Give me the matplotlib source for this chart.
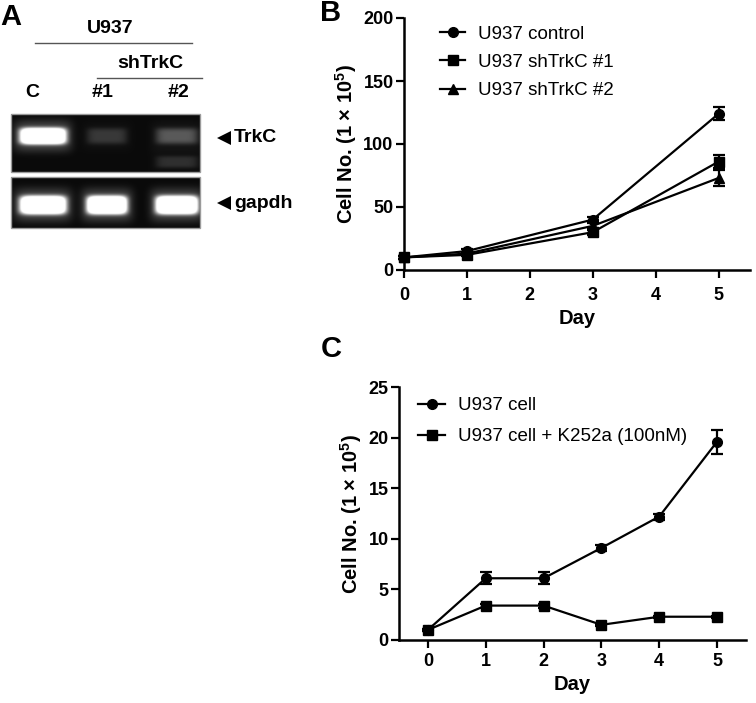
import numpy as np
import matplotlib
matplotlib.use("Agg")
import matplotlib.pyplot as plt
from matplotlib.patches import Rectangle

plt.rcParams["font.family"] = ["Liberation Sans", "DejaVu Sans"]
plt.rcParams["mathtext.fontset"] = "custom"
plt.rcParams["mathtext.rm"] = "Liberation Sans:bold"
plt.rcParams["mathtext.it"] = "Liberation Sans:bold"
plt.rcParams["mathtext.bf"] = "Liberation Sans:bold"

# ── DATA ────────────────────────────────────────────────────────────
# panel A: RT-PCR gel, relative band intensity per lane
lanes = ["C", "#1", "#2"]
trkc_signal = [1.0, 0.10, 0.17]
trkc_lower = [0.0, 0.0, 0.08]
gapdh_signal = [1.0, 1.0, 1.0]

# panel B: growth curves
days_b = [0, 1, 3, 5]
ctrl_b = [10, 15, 40, 124]
ctrl_b_err = [1, 1.5, 2, 5]
sh1_b = [10, 12, 30, 86]
sh1_b_err = [1, 1, 2, 5]
sh2_b = [10, 13, 35, 73]
sh2_b_err = [1, 1, 2, 6]
labels_b = ["U937 control", "U937 shTrkC #1", "U937 shTrkC #2"]

# panel C: K252a treatment
days_c = [0, 1, 2, 3, 4, 5]
cell_c = [1.0, 6.1, 6.1, 9.1, 12.2, 19.6]
cell_c_err = [0.1, 0.6, 0.6, 0.3, 0.3, 1.2]
k252a_c = [1.0, 3.4, 3.4, 1.5, 2.3, 2.3]
k252a_c_err = [0.1, 0.2, 0.2, 0.1, 0.1, 0.1]
labels_c = ["U937 cell", "U937 cell + K252a (100nM)"]

W, H = 756, 703
fig = plt.figure(figsize=(W / 100, H / 100), dpi=100)


def px_axes(left, top, right, bottom):
    return fig.add_axes([left / W, 1 - bottom / H, (right - left) / W, (bottom - top) / H])


# ── PANEL A (drawn in pixel space) ──────────────────────────────────
ov = fig.add_axes([0, 0, 1, 1])
ov.set_xlim(0, W)
ov.set_ylim(H, 0)
ov.axis("off")
ov.patch.set_visible(False)


def blob(xx, yy, cx, cy, wx, wy, amp):
    return amp * np.exp(-np.abs((xx - cx) / wx) ** 6) * np.exp(-np.abs((yy - cy) / wy) ** 4)


lane_x = [43, 107, 177]
lane_w = [23, 20, 21]


def gel(x0, x1, y0, y1, rows):
    xs = np.linspace(x0, x1, 4 * int(x1 - x0))
    ys = np.linspace(y0, y1, 4 * int(y1 - y0))
    xx, yy = np.meshgrid(xs, ys)
    img = np.full(xx.shape, 0.04)
    for sig, cy, wy in rows:
        for cx, w, s in zip(lane_x, lane_w, sig):
            if s <= 0:
                continue
            img += blob(xx, yy, cx, cy, w, wy, 1.6 * s)
            img += blob(xx, yy, cx, cy, w + 6, wy + 8, 0.25 * s)
    ov.imshow(np.clip(img, 0, 1), cmap="gray", vmin=0, vmax=1, aspect="auto",
              extent=(x0, x1, y1, y0), interpolation="bilinear", zorder=1)
    ov.add_patch(Rectangle((x0, y0), x1 - x0, y1 - y0, fill=False, ec="#9a9a9a", lw=1, zorder=2))


gel(11, 200, 114, 172, [(trkc_signal, 136, 8), (trkc_lower, 162, 6)])
gel(11, 200, 177, 228, [(gapdh_signal, 205, 9)])

ov.text(0, 25, "A", fontsize=21, fontweight="bold", va="baseline")
ov.text(110, 33, "U937", fontsize=14, fontweight="bold", ha="center", va="baseline")
ov.plot([35, 192], [43, 43], color="#555555", lw=1)
ov.text(150, 68, "shTrkC", fontsize=14, fontweight="bold", ha="center", va="baseline")
ov.plot([97, 202], [78, 78], color="#555555", lw=1)
for name, cx in zip(lanes, [32, 103, 178]):
    ov.text(cx, 97, name, fontsize=14, fontweight="bold", ha="center", va="baseline")
for name, cy in [("TrkC", 138), ("gapdh", 203)]:
    ov.plot(224, cy, marker="<", ms=10.5, color="black", mec="black", mew=0)
    ov.text(234, cy, name, fontsize=14, fontweight="bold", va="center")

ov.text(320, 21, "B", fontsize=21, fontweight="bold", va="baseline")
ov.text(321, 357, "C", fontsize=21, fontweight="bold", va="baseline")


def style(ax, xpad):
    for s in ["top", "right"]:
        ax.spines[s].set_visible(False)
    for s in ["left", "bottom"]:
        ax.spines[s].set_linewidth(1.8)
    ax.tick_params(axis="both", width=1.6, length=6, labelsize=13)
    ax.tick_params(axis="x", pad=xpad)
    ax.tick_params(axis="y", pad=1.5)
    for lab in ax.get_xticklabels() + ax.get_yticklabels():
        lab.set_fontweight("bold")
    ax.patch.set_visible(False)


common = dict(color="black", lw=1.6, capsize=4, capthick=1.6, elinewidth=1.6, clip_on=False)

# ── PANEL B ─────────────────────────────────────────────────────────
axb = px_axes(404, 18, 750, 270)
eb = [
    axb.errorbar(days_b, ctrl_b, yerr=ctrl_b_err, marker="o", ms=7, **common),
    axb.errorbar(days_b, sh1_b, yerr=sh1_b_err, marker="s", ms=7, **common),
    axb.errorbar(days_b, sh2_b, yerr=sh2_b_err, marker="^", ms=7.5, **common),
]
axb.set_xlim(0, 5.5)
axb.set_ylim(0, 200)
axb.set_xticks(range(6))
axb.set_yticks([0, 50, 100, 150, 200])
axb.set_xlabel("Day", fontsize=14.5, fontweight="bold", labelpad=4)
axb.set_ylabel("Cell No. (1 × 10$^5$)", fontsize=14.5, fontweight="bold", labelpad=3)
style(axb, 6)
axb.legend([c[0] for c in eb], labels_b, loc="upper left", bbox_to_anchor=(0.104, 0.97),
           frameon=False, fontsize=13.5, handlelength=1.35, handletextpad=0.7,
           labelspacing=0.6, borderpad=0, borderaxespad=0)

# ── PANEL C ─────────────────────────────────────────────────────────
axc = px_axes(399, 387, 746, 640)
ec = [
    axc.errorbar(days_c, cell_c, yerr=cell_c_err, marker="o", ms=7, **common),
    axc.errorbar(days_c, k252a_c, yerr=k252a_c_err, marker="s", ms=7.5, **common),
]
axc.set_xlim(-0.5, 5.5)
axc.set_ylim(0, 25)
axc.set_xticks(range(6))
axc.set_yticks([0, 5, 10, 15, 20, 25])
axc.set_xlabel("Day", fontsize=14.5, fontweight="bold", labelpad=4)
axc.set_ylabel("Cell No. (1 × 10$^5$)", fontsize=14.5, fontweight="bold", labelpad=3)
style(axc, 3)
axc.legend([c[0] for c in ec], labels_c, loc="upper left", bbox_to_anchor=(0.055, 0.96),
           frameon=False, fontsize=13.5, handlelength=1.45, handletextpad=0.7,
           labelspacing=0.75, borderpad=0, borderaxespad=0)

fig.savefig("out.png", dpi=100)
